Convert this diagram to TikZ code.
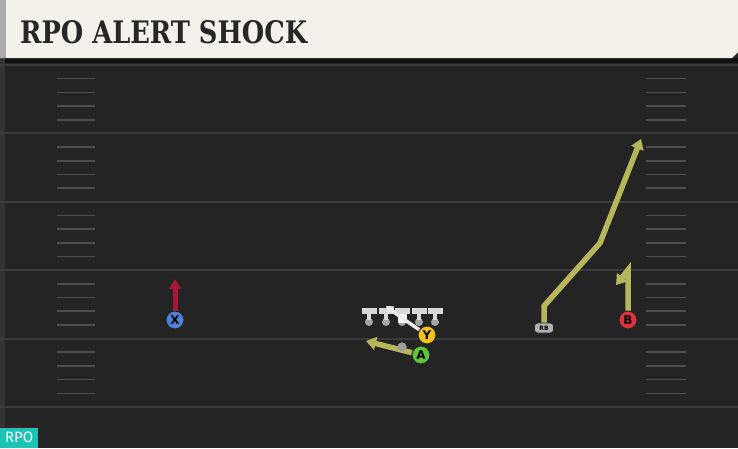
\documentclass[tikz,border=0pt]{standalone}
\usepackage{fontspec}
\setmainfont{DejaVu Sans}
\newfontfamily\titlefont{DejaVu Serif}
\newfontfamily\tagfont{Fira Sans}
\usetikzlibrary{arrows.meta}
\definecolor{fieldbg}{HTML}{242424}
\definecolor{headerbg}{HTML}{F4F1EA}
\definecolor{stripe}{HTML}{ABABAB}
\definecolor{yardgray}{HTML}{3B3B3B}
\definecolor{routeolive}{HTML}{B6B65A}
\definecolor{blockred}{HTML}{A8163B}
\definecolor{xblue}{HTML}{4C82D8}
\definecolor{yyellow}{HTML}{F2C21C}
\definecolor{agreen}{HTML}{5DC63B}
\definecolor{bred}{HTML}{E2303F}
\definecolor{tagteal}{HTML}{1CC4B5}
\tikzset{
  >={Triangle[length=10pt,width=13pt]},
  {yard line/.style} ={draw=yardgray,line width=2pt},
  {hash mark/.style} ={draw=yardgray!90,line width=1.6pt},
  {player/.style} ={circle,draw=black!85,line width=1pt,fill=#1,
                    minimum size=18pt,inner sep=0pt,
                    font=\bfseries\fontsize{12}{12}\selectfont},
  {route/.style} ={draw=routeolive,line width=5.5pt,->},
  {block route/.style} ={draw=blockred,line width=5pt,
                    -{Triangle[length=10pt,width=12pt]}},
  {snap route/.style} ={draw=white!92!black,line width=3.5pt,
                    -{Triangle[length=7pt,width=9pt]}},
  {lineman/.style} ={circle,fill=gray!70,inner sep=0,minimum size=8pt},
  {small dot/.style} ={circle,fill=gray!75,inner sep=0,minimum size=9pt},
  {ball/.style} ={rectangle,fill=white,inner sep=0,minimum size=9pt},
  {back/.style} ={rectangle,rounded corners=3pt,draw=black!85,fill=gray!60,
                    line width=0.8pt,minimum width=19pt,minimum height=10pt,
                    inner sep=0,font=\bfseries\fontsize{6}{6}\selectfont},
  {tag/.style} ={rectangle,fill=tagteal,text=white,anchor=south west,
                    minimum width=38pt,minimum height=20pt,inner sep=0,
                    font=\tagfont\fontsize{15}{15}\selectfont},
}

\begin{document}
\begin{tikzpicture}[x=1pt,y=-1pt]
\useasboundingbox (0,0) rectangle (738,448);
\fill[fieldbg] (0,0) rectangle (738,448);
\fill[black!55!fieldbg] (0,58) rectangle (738,63);
\fill[yardgray!70!fieldbg] (0,58) rectangle (5,448);

% header
\fill[headerbg] (0,0) -- (738,0) -- (738,52) -- (732,58) -- (0,58) -- cycle;
\fill[stripe] (0,0) rectangle (6,58);
\node[anchor=west,text=black!85,inner sep=0,
      font=\titlefont\bfseries\fontsize{31}{31}\selectfont] (title) at (20,32)
      {\scalebox{0.83}[1]{RPO ALERT SHOCK}};

% field
\foreach \k in {0,...,5}
  \draw[yard line] (0,{65+68.4*\k}) -- (738,{65+68.4*\k});
\foreach \k in {0,...,4}
  \foreach \j in {1,...,4} {
    \draw[hash mark] (57,{65+68.4*\k+13.68*\j}) -- (95,{65+68.4*\k+13.68*\j});
    \draw[hash mark] (646,{65+68.4*\k+13.68*\j}) -- (686,{65+68.4*\k+13.68*\j});
  }

% line
\foreach \x [count=\i] in {369,386,402,419,435} {
  \node[lineman] (ol\i) at (\x,322) {};
  \draw[gray!30,line width=4pt] (\x,320) -- (\x,311);
  \draw[gray!30,line width=6pt] (\x-7.5,311) -- (\x+7.5,311);
}
\node[ball] (snap) at (402,318) {};

% players
\node[player=xblue] (X) at (175,320) {X};
\node[player=yyellow] (Y) at (427,335) {Y};
\node[small dot] (qb) at (402,347) {};
\node[player=agreen] (A) at (421,355) {A};
\node[back] (RB) at (544,328) {RB};
\node[player=bred] (B) at (628,320) {B};

\coordinate (x1) at (175,279);
\coordinate (y1) at (386,306);
\coordinate (a1) at (366,341);
\coordinate (rb1) at (544,306);
\coordinate (rb2) at (600,243);
\coordinate (rb3) at (641,139);
\coordinate (b1) at (628,270);
\coordinate (b2) at (616,285);

\draw[block route] (X) -- (x1);
\draw[snap route] (Y) -- (snap.center) -- (y1);
\draw[route] (A) -- (a1);
\node[small dot] at (qb) {};
\draw[route] (RB) -- (rb1) -- (rb2) -- (rb3);
\draw[route] (B) -- (b1) -- (b2);

% tag
\node[tag] (rpo) at (0,448) {RPO};
\draw[blockred!60!black,line width=1pt] (rpo.north west) -- (rpo.north east);
\end{tikzpicture}
\end{document}
